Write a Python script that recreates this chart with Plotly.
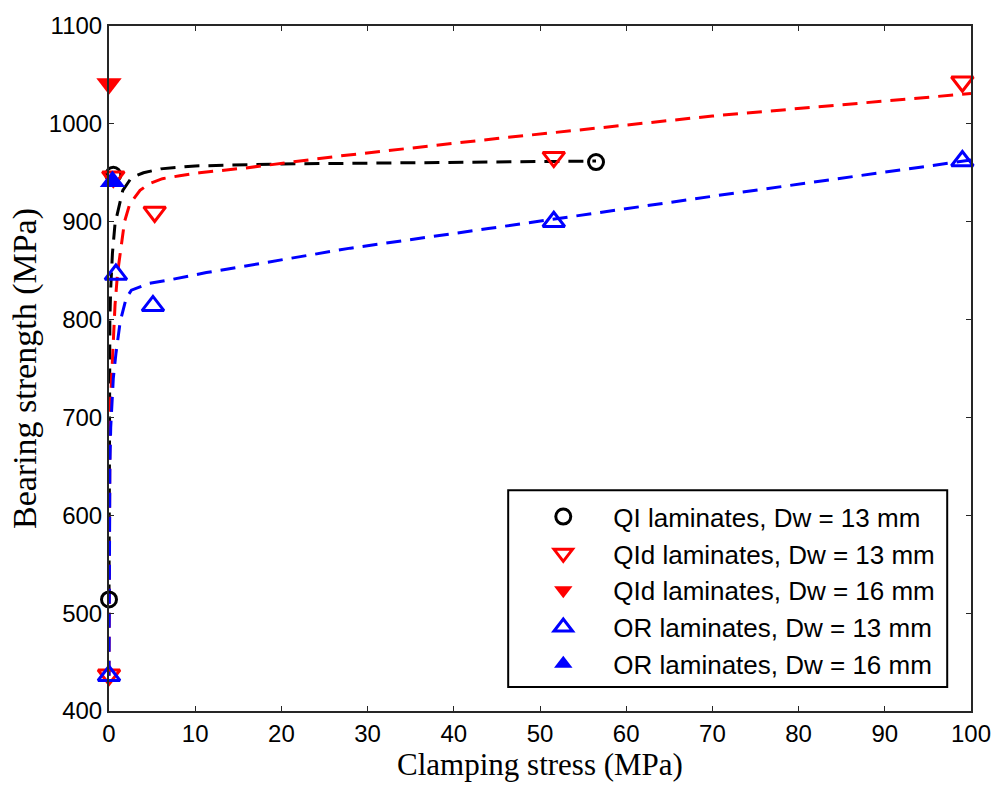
import plotly.graph_objects as go

# ---- measured points ----
qi13_x = [0.0, 0.5, 56.5]
qi13_y = [514, 948, 961]

qid13_x = [0.0, 0.5, 5.3, 51.6, 99.0]
qid13_y = [437, 946, 910, 966, 1043]

qid16_x = [0.0]
qid16_y = [1041]

or13_x = [0.0, 0.8, 5.1, 51.6, 99.0]
or13_y = [436, 846, 814, 900, 962]

or16_x = [0.4]
or16_y = [941]

# ---- fitted curves ----
fit_qi_x = [0.0, 0.01, 0.03, 0.06, 0.1, 0.2, 0.4, 0.7, 1.2, 1.6, 2.6, 4.0, 6.0, 10.0, 20.0, 30.0, 44.0, 56.5]
fit_qi_y = [514, 640, 720, 770, 800, 832, 868, 898, 918, 932, 945, 950, 954, 957, 959, 960, 961, 962]

fit_qid_x = [0.0, 0.01, 0.02, 0.05, 0.1, 0.15, 0.3, 0.5, 0.7, 1.0, 1.5, 1.8, 2.4, 3.6, 4.7, 6.2, 8.2, 10.5, 15.9, 26.6, 45.0, 70.0, 100.0]
fit_qid_y = [436, 560, 590, 655, 685, 712, 742, 775, 815, 848, 880, 900, 918, 932, 939, 944, 947, 950, 955, 967, 985, 1008, 1031]

fit_or_x = [0.0, 0.01, 0.02, 0.05, 0.1, 0.2, 0.35, 0.5, 0.8, 1.0, 1.3, 2.0, 2.6, 4.7, 6.7, 11.3, 28.0, 44.0, 70.0, 100.0]
fit_or_y = [436, 520, 560, 610, 650, 690, 717, 740, 765, 780, 798, 822, 830, 837, 840, 848, 873, 893, 926, 963]

x_ticks = [0, 10, 20, 30, 40, 50, 60, 70, 80, 90, 100]
y_ticks = [400, 500, 600, 700, 800, 900, 1000, 1100]

fig = go.Figure()

dash = "15px,9px"
for fx, fy, col in [(fit_qi_x, fit_qi_y, "black"),
                    (fit_qid_x, fit_qid_y, "red"),
                    (fit_or_x, fit_or_y, "blue")]:
    fig.add_trace(go.Scatter(x=fx, y=fy, mode="lines", showlegend=False,
                             line=dict(color=col, width=3, dash=dash),
                             hoverinfo="skip"))

fig.add_trace(go.Scatter(x=qi13_x, y=qi13_y, mode="markers", cliponaxis=False,
                         name="QI laminates, Dw = 13 mm", legendgroup="a",
                         marker=dict(symbol="circle-open", size=15, color="black",
                                     line=dict(width=3, color="black"))))
fig.add_trace(go.Scatter(x=qid13_x, y=qid13_y, mode="markers", cliponaxis=False,
                         name="QId laminates, Dw = 13 mm", legendgroup="b",
                         marker=dict(symbol="triangle-down-open", size=19, color="red",
                                     line=dict(width=3, color="red"))))
fig.add_trace(go.Scatter(x=qid16_x, y=qid16_y, mode="markers", cliponaxis=False,
                         name="QId laminates, Dw = 16 mm", legendgroup="c",
                         marker=dict(symbol="triangle-down", size=22, color="red",
                                     line=dict(width=0))))
fig.add_trace(go.Scatter(x=or13_x, y=or13_y, mode="markers", cliponaxis=False,
                         name="OR laminates, Dw = 13 mm", legendgroup="d",
                         marker=dict(symbol="triangle-up-open", size=19, color="blue",
                                     line=dict(width=3, color="blue"))))
fig.add_trace(go.Scatter(x=or16_x, y=or16_y, mode="markers", cliponaxis=False,
                         name="OR laminates, Dw = 16 mm", legendgroup="e",
                         marker=dict(symbol="triangle-up", size=22, color="blue",
                                     line=dict(width=0))))

axis_common = dict(showline=True, linecolor="#262626", linewidth=2, mirror="allticks",
                   ticks="inside", ticklen=5, tickwidth=1, tickcolor="#262626",
                   showgrid=False, zeroline=False,
                   tickfont=dict(family="Liberation Sans, Arial", size=24, color="black"))

fig.update_layout(
    width=1003, height=785,
    margin=dict(l=109, r=26, t=25, b=74),
    paper_bgcolor="white", plot_bgcolor="white",
    xaxis=dict(range=[0, 100], tickvals=x_ticks,
               title=dict(text="Clamping stress (MPa)", standoff=0,
                          font=dict(family="Liberation Serif, Times New Roman", size=31, color="black")),
               **axis_common),
    yaxis=dict(range=[400, 1100], tickvals=y_ticks,
               title=dict(text="Bearing strength (MPa)", standoff=2,
                          font=dict(family="Liberation Serif, Times New Roman", size=34, color="black")),
               **axis_common),
    legend=dict(x=0.469, y=0.318, xanchor="left", yanchor="top",
                bgcolor="rgba(0,0,0,0)", borderwidth=0,
                itemwidth=90, traceorder="grouped", tracegroupgap=0,
                font=dict(family="Liberation Sans, Arial", size=26, color="black")),
    showlegend=True,
    shapes=[dict(type="rect", xref="paper", yref="paper",
                 x0=0.4631, x1=0.9724, y0=0.035, y1=0.3222,
                 line=dict(color="black", width=2), fillcolor="white", layer="below")],
)

fig.write_html("out.html")
